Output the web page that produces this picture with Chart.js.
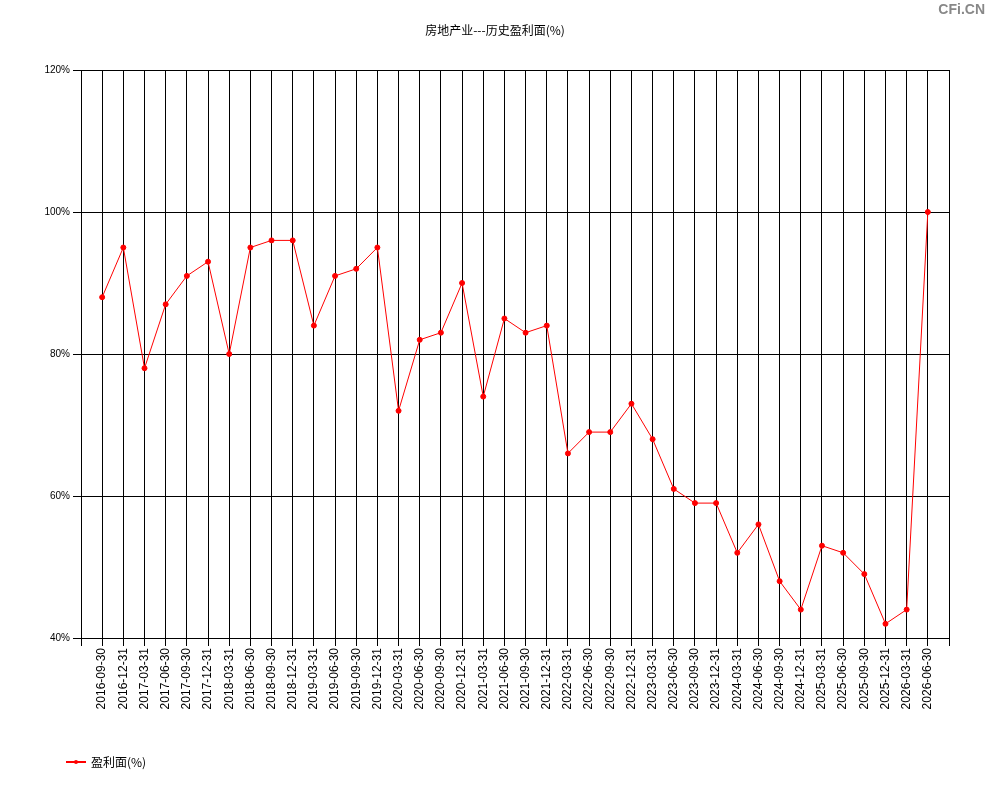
<!DOCTYPE html>
<html>
<head>
<meta charset="utf-8">
<script src="https://cdn.jsdelivr.net/npm/chart.js@4/dist/chart.umd.min.js"></script>
<style>
  body { margin: 0; background: #fff; }
  #wrap { position: relative; width: 990px; height: 800px; }
  #mark { position: absolute; right: 5px; top: 1px; font: bold 14px "Liberation Sans", Arial, sans-serif; color: #888; }
</style>
</head>
<body>
<div id="wrap">
  <canvas id="firstChart" width="990" height="800"></canvas>
  <div id="mark">CFi.CN</div>
</div>
<script>
const title = '房地产业---历史盈利面(%)';
const seriesName = '盈利面(%)';

const dates = [
    '2016-09-30', '2016-12-31',
    '2017-03-31', '2017-06-30', '2017-09-30', '2017-12-31',
    '2018-03-31', '2018-06-30', '2018-09-30', '2018-12-31',
    '2019-03-31', '2019-06-30', '2019-09-30', '2019-12-31',
    '2020-03-31', '2020-06-30', '2020-09-30', '2020-12-31',
    '2021-03-31', '2021-06-30', '2021-09-30', '2021-12-31',
    '2022-03-31', '2022-06-30', '2022-09-30', '2022-12-31',
    '2023-03-31', '2023-06-30', '2023-09-30', '2023-12-31',
    '2024-03-31', '2024-06-30', '2024-09-30', '2024-12-31',
    '2025-03-31', '2025-06-30', '2025-09-30', '2025-12-31',
    '2026-03-31', '2026-06-30'
];
const profit = [
    88, 95,
    78, 87, 91, 93,
    80, 95, 96, 96,
    84, 91, 92, 95,
    72, 82, 83, 90,
    74, 85, 83, 84,
    66, 69, 69, 73,
    68, 61, 59, 59,
    52, 56, 48, 44,
    53, 52, 49, 42,
    44, 100
];
const yTicks = [40, 60, 80, 100, 120];

// blank slot at each end so the points sit one step in from the frame
const labels = [''].concat(dates, ['']);
const values = [null].concat(profit, [null]);

const legendAndTitle = {
    id: 'legendAndTitle',
    afterDraw(chart) {
        const ctx = chart.ctx;
        ctx.save();
        ctx.fillStyle = '#000';
        ctx.font = '12px "Noto Sans CJK SC", sans-serif';
        ctx.textAlign = 'center';
        ctx.textBaseline = 'middle';
        ctx.fillText(title, 495, 30);

        ctx.strokeStyle = 'red';
        ctx.lineWidth = 2;
        ctx.beginPath();
        ctx.moveTo(66, 762);
        ctx.lineTo(86, 762);
        ctx.stroke();
        ctx.fillStyle = 'red';
        ctx.beginPath();
        ctx.arc(76, 762, 2, 0, Math.PI * 2);
        ctx.fill();
        ctx.fillStyle = '#000';
        ctx.textAlign = 'left';
        ctx.fillText(seriesName, 91, 762);
        ctx.restore();
    }
};

function chart(){
    const ctx = document.getElementById('firstChart');
    new Chart(ctx, {
        type: 'line',
        data: {
            labels: labels,
            datasets: [{
                label: seriesName,
                data: values,
                borderColor: 'red',
                backgroundColor: 'red',
                borderWidth: 1,
                pointRadius: 2.5,
                pointHoverRadius: 2.5,
                tension: 0
            }]
        },
        options: {
            responsive: false,
            animation: false,
            layout: { padding: { top: 70, left: 0, right: 41, bottom: 0 } },
            plugins: { legend: { display: false }, tooltip: { enabled: false } },
            scales: {
                x: {
                    offset: false,
                    afterFit(s) { s.height = 162; },
                    grid: { color: '#000', lineWidth: 1, tickLength: 8, tickColor: '#000' },
                    border: { display: false },
                    ticks: {
                        autoSkip: false,
                        minRotation: 90,
                        maxRotation: 90,
                        padding: 2,
                        color: '#000',
                        font: { family: 'Liberation Sans', size: 12 }
                    }
                },
                y: {
                    min: 40,
                    max: 120,
                    afterFit(s) { s.width = 81; },
                    afterBuildTicks(s) { s.ticks = yTicks.map(v => ({ value: v })); },
                    grid: { color: '#000', lineWidth: 1, tickLength: 8, tickColor: '#000' },
                    border: { display: false },
                    ticks: {
                        padding: 3,
                        color: '#000',
                        font: { family: 'Liberation Sans', size: 10 },
                        callback: v => v + '%'
                    }
                }
            }
        },
        plugins: [legendAndTitle]
    });
}

chart();
</script>
</body>
</html>
